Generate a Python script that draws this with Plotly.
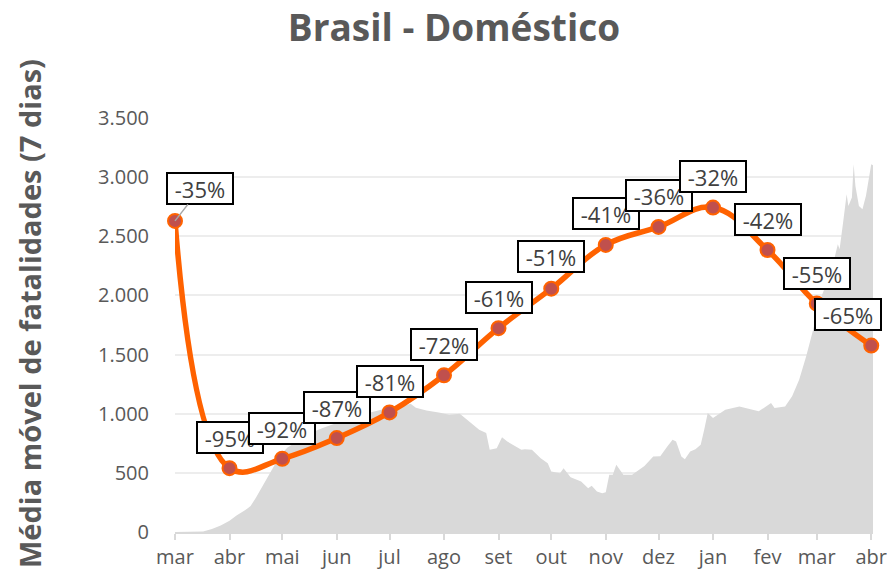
import plotly.graph_objects as go

# ---- Data -------------------------------------------------------------
month_dates = ["2020-03-01", "2020-04-01", "2020-05-01", "2020-06-01", "2020-07-01",
               "2020-08-01", "2020-09-01", "2020-10-01", "2020-11-01", "2020-12-01",
               "2021-01-01", "2021-02-01", "2021-03-01", "2021-04-01"]
month_labels = ["mar", "abr", "mai", "jun", "jul", "ago", "set", "out", "nov", "dez",
                "jan", "fev", "mar", "abr"]

# Orange series (on the left-axis scale)
domestic_values = [2630, 540, 619, 794, 1011, 1325, 1723, 2057, 2427, 2579, 2743, 2384, 1932, 1576]
domestic_labels = ["-35%", "-95%", "-92%", "-87%", "-81%", "-72%", "-61%", "-51%", "-41%",
                   "-36%", "-32%", "-42%", "-55%", "-65%"]

# Grey area: 7-day moving average of fatalities
area_dates = [
    "2020-03-01", "2020-03-10", "2020-03-17", "2020-03-22", "2020-03-27", "2020-04-01",
    "2020-04-05", "2020-04-10", "2020-04-13", "2020-04-16", "2020-04-19", "2020-04-22",
    "2020-04-26", "2020-04-30", "2020-05-04", "2020-05-10", "2020-05-16", "2020-05-24",
    "2020-06-01", "2020-06-10", "2020-06-20", "2020-06-28", "2020-07-05", "2020-07-10",
    "2020-07-13", "2020-07-16", "2020-07-22", "2020-07-29", "2020-08-04", "2020-08-10",
    "2020-08-13", "2020-08-17", "2020-08-21", "2020-08-25", "2020-08-27", "2020-08-31",
    "2020-09-03", "2020-09-06", "2020-09-11", "2020-09-14", "2020-09-16", "2020-09-20",
    "2020-09-25", "2020-09-29", "2020-10-01", "2020-10-06", "2020-10-08", "2020-10-12",
    "2020-10-18", "2020-10-22", "2020-10-24", "2020-10-27", "2020-10-30", "2020-11-01",
    "2020-11-03", "2020-11-05", "2020-11-07", "2020-11-09", "2020-11-11", "2020-11-16",
    "2020-11-20", "2020-11-23", "2020-11-28", "2020-12-02", "2020-12-06", "2020-12-09",
    "2020-12-11", "2020-12-14", "2020-12-16", "2020-12-19", "2020-12-22", "2020-12-25",
    "2020-12-27", "2020-12-29", "2021-01-01", "2021-01-08", "2021-01-16", "2021-01-24",
    "2021-01-27", "2021-02-03", "2021-02-05", "2021-02-11", "2021-02-15", "2021-02-19",
    "2021-02-23", "2021-02-27", "2021-03-03", "2021-03-06", "2021-03-10", "2021-03-13",
    "2021-03-14", "2021-03-16", "2021-03-18", "2021-03-19", "2021-03-21", "2021-03-22",
    "2021-03-23", "2021-03-25", "2021-03-27", "2021-03-29", "2021-03-31", "2021-04-01",
    "2021-04-02"]
area_values = [
    0, 1, 5, 25, 55, 95,
    140, 185, 220, 290, 370, 440,
    550, 650, 715, 770, 830, 880,
    920, 970, 1010, 1040, 1048, 1070,
    1085, 1050, 1028, 1010, 992, 1000,
    963, 907, 864, 836, 695, 709,
    800, 765, 723, 695, 700, 695,
    624, 582, 511, 497, 540, 463,
    426, 370, 390, 342, 328, 335,
    483, 483, 568, 525, 483, 483,
    525, 559, 638, 640, 723, 780,
    765, 638, 616, 680, 700, 737,
    864, 1006, 963, 1034, 1062, 1034,
    1020, 1090, 1048, 1062, 1147, 1288,
    1486, 1712, 1966, 2079, 2248, 2432,
    2390, 2616, 2856, 2757, 2828, 3110,
    2926, 2757, 2729, 2842, 3040, 3110,
    3100]

y_tick_vals = [0, 500, 1000, 1500, 2000, 2500, 3000, 3500]
y_tick_text = ["0", "500", "1.000", "1.500", "2.000", "2.500", "3.000", "3.500"]

# ---- Styling ----------------------------------------------------------
FONT = "Open Sans"
GREY_TXT = "#595959"
ORANGE = "#FF6200"
W, H = 887, 569

# label offsets in pixels (x, y) relative to each marker
label_offsets = [(25, 32), (0, 31), (0, 30), (0, 31), (0, 31), (0, 31), (0, 31),
                 (0, 32), (0, 31), (0, 31), (0, 31), (0, 31), (0, 30), (-23, 31)]

fig = go.Figure()
fig.add_trace(go.Scatter(
    x=area_dates, y=area_values, mode="lines", fill="tozeroy",
    line=dict(width=0, color="#D9D9D9"), fillcolor="#D9D9D9",
    hoverinfo="skip", showlegend=False))
fig.add_trace(go.Scatter(
    x=month_dates, y=domestic_values, mode="lines+markers",
    line=dict(color=ORANGE, width=5.5, shape="spline", smoothing=1.15),
    marker=dict(size=14, color="#C0504D", line=dict(color=ORANGE, width=2)),
    cliponaxis=False, showlegend=False))

annotations = []
for i, (d, v, t) in enumerate(zip(month_dates, domestic_values, domestic_labels)):
    dx, dy = label_offsets[i]
    common = dict(x=d, y=v, xref="x", yref="y", text=t,
                  font=dict(family=FONT, size=22, color="#404040"),
                  bgcolor="white", bordercolor="black", borderwidth=2, borderpad=1,
                  width=62, height=27, align="center")
    if i == 0:
        annotations.append(dict(**common, showarrow=True, ax=dx, ay=-dy,
                                arrowhead=0, arrowwidth=1.5, arrowcolor="#A6A6A6",
                                standoff=0))
    else:
        annotations.append(dict(**common, showarrow=False, xshift=dx, yshift=dy))

annotations.append(dict(
    text="<b>Média móvel de fatalidades (7 dias)</b>", textangle=-90,
    xref="paper", yref="paper", x=-0.2077, y=0.5266, xanchor="center", yanchor="middle",
    showarrow=False, font=dict(family=FONT, size=29, color=GREY_TXT)))

fig.update_layout(
    width=W, height=H,
    margin=dict(l=175, r=14, t=118, b=37),
    paper_bgcolor="white", plot_bgcolor="white",
    title=dict(text="<b>Brasil - Doméstico</b>", x=454 / W, xanchor="center",
               y=1 - 28 / H, yanchor="middle", xref="container", yref="container",
               font=dict(family=FONT, size=37, color=GREY_TXT)),
    annotations=annotations,
    showlegend=False,
)
fig.update_xaxes(
    type="date", range=["2020-03-01", "2021-04-02"], automargin=False,
    tickvals=month_dates, ticktext=month_labels, ticklabeloverflow="allow",
    tickfont=dict(family=FONT, size=20, color=GREY_TXT),
    showgrid=False, showline=True, linecolor="#D9D9D9", linewidth=1.5,
    ticks="outside", ticklen=6, tickcolor="#D9D9D9", tickwidth=1.5,
)
fig.update_yaxes(
    range=[0, 3500], tickvals=y_tick_vals, ticktext=y_tick_text, automargin=False,
    tickfont=dict(family=FONT, size=20, color=GREY_TXT),
    showgrid=True, gridcolor="#EDEDED", gridwidth=1.5, zeroline=False,
    ticklabelstandoff=25,
)

# remove the browser's default 8px body margin so the 887x569 figure fills the window
fig.write_html("out.html", config={"displayModeBar": False},
               post_script="document.body.style.margin='0px';")
